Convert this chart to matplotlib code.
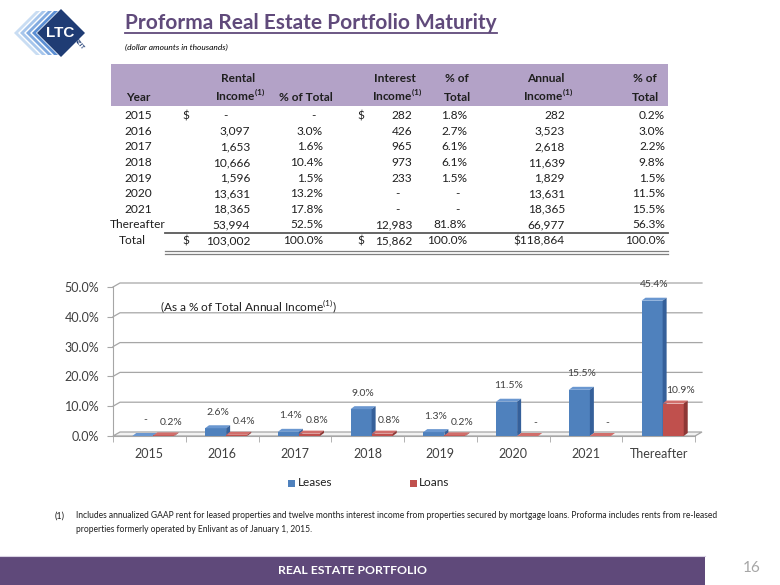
import matplotlib
matplotlib.use('Agg')
import matplotlib.pyplot as plt
from matplotlib.patches import Polygon, Rectangle
from matplotlib.lines import Line2D
import numpy as np

# ---------------- data ----------------
years = ['2015', '2016', '2017', '2018', '2019', '2020', '2021', 'Thereafter']
rental_income = [None, 3097, 1653, 10666, 1596, 13631, 18365, 53994]
rental_pct = [None, 3.0, 1.6, 10.4, 1.5, 13.2, 17.8, 52.5]
interest_income = [282, 426, 965, 973, 233, None, None, 12983]
interest_pct = [1.8, 2.7, 6.1, 6.1, 1.5, None, None, 81.8]
annual_income = [282, 3523, 2618, 11639, 1829, 13631, 18365, 66977]
annual_pct = [0.2, 3.0, 2.2, 9.8, 1.5, 11.5, 15.5, 56.3]
total_rental = 103002
total_interest = 15862
total_annual = 118864
total_pct = 100.0

categories = years
leases_pct = [0.0, 2.6, 1.4, 9.0, 1.3, 11.5, 15.5, 45.4]
loans_pct = [0.2, 0.4, 0.8, 0.8, 0.2, 0.0, 0.0, 10.9]
y_ticks = [0, 10, 20, 30, 40, 50]
series_names = ['Leases', 'Loans']

title = 'Proforma Real Estate Portfolio Maturity'
subtitle = '(dollar amounts in thousands)'
footnote1 = ('Includes annualized GAAP rent for leased properties and twelve months interest income '
             'from properties secured by mortgage loans. Proforma includes rents from re-leased')
footnote2 = 'properties formerly operated by Enlivant as of January 1, 2015.'
footer = 'REAL ESTATE PORTFOLIO'
page = '16'

FAM = ['Lato', 'DejaVu Sans']
plt.rcParams['font.family'] = FAM

W, H = 780, 585
fig = plt.figure(figsize=(7.8, 5.85), dpi=100)
fig.patch.set_facecolor('white')


def fx(x):
    return x / W


def fy(y):
    return 1 - y / H


def txt(x, y, s, **kw):
    kw.setdefault('va', 'center')
    return fig.text(fx(x), fy(y), s, **kw)


def fpoly(pts, **kw):
    p = Polygon([(fx(a), fy(b)) for a, b in pts], closed=True,
                transform=fig.transFigure, **kw)
    fig.patches.append(p)
    return p


def frect(x0, y0, x1, y1, **kw):
    r = Rectangle((fx(x0), fy(y1)), (x1 - x0) / W, (y1 - y0) / H,
                  transform=fig.transFigure, **kw)
    fig.patches.append(r)
    return r


def fline(x0, x1, y, **kw):
    fig.add_artist(Line2D([fx(x0), fx(x1)], [fy(y), fy(y)], transform=fig.transFigure, **kw))


renderer = fig.canvas.get_renderer()


def fit_width(t, width_px):
    w = t.get_window_extent(renderer).width
    t.set_fontsize(t.get_fontsize() * width_px / w)


PURPLE = '#604A7B'
TXT = '#1F1F1F'

# ---------------- logo ----------------
NAVY = '#1F3C74'
chev_cols = ['#C9DDF3', '#A7C6EC', '#82ABE0', '#5B8ED3']
cy, ytop, ybot = 33, 11, 55
for k, c in enumerate(chev_cols):
    a = 14 + 6 * k
    wd = 4
    fpoly([(a + (cy - ytop), ytop), (a, cy), (a + (ybot - cy), ybot),
           (a + wd + (ybot - cy), ybot), (a + wd, cy), (a + wd + (cy - ytop), ytop)],
          facecolor=c, edgecolor='none')
fpoly([(61, 9), (85, 33), (61, 57), (37, 33)], facecolor=NAVY, edgecolor='none')
txt(60, 33, 'LTC', ha='center', color='white', fontsize=11, fontweight='bold',
    family=['Liberation Sans', 'DejaVu Sans'])
txt(79, 44, 'REIT', ha='center', color=NAVY, fontsize=4.5, fontweight='bold', rotation=-50)

# ---------------- title ----------------
t = txt(125, 29, title, ha='left', va='baseline', color=PURPLE, fontsize=14, fontweight='bold')
fit_width(t, 375)
bb = t.get_window_extent(renderer)
fline(125, 125 + bb.width, 33, color=PURPLE, lw=1.3)
s = txt(125, 47, subtitle, ha='left', color='black', fontsize=6.5, style='italic')
fit_width(s, 103)

# ---------------- table ----------------
frect(111, 64, 668, 106, facecolor='#B3A2C7', edgecolor='none')
TFS = 8.6
BL = 3.2  # baseline offset from row centre (px)
hdr = dict(fontsize=TFS, fontweight='bold', color=TXT, ha='center', va='baseline')
sup = r'$^{\mathregular{(1)}}$'
H1, H2 = 79 + BL, 98 + BL
txt(138, H2, 'Year', **hdr)
txt(238, H1, 'Rental', **hdr)
txt(240, H2, 'Income' + sup, **hdr)
txt(306, H2, '% of Total', **hdr)
txt(395, H1, 'Interest', **hdr)
txt(397, H2, 'Income' + sup, **hdr)
txt(457, H1, '% of', **hdr)
txt(457, H2, 'Total', **hdr)
txt(546, H1, 'Annual', **hdr)
txt(548, H2, 'Income' + sup, **hdr)
txt(645, H1, '% of', **hdr)
txt(645, H2, 'Total', **hdr)

cell = dict(fontsize=TFS, color=TXT, va='baseline')
R_RENT, R_RPCT, R_INT, R_IPCT, R_ANN, R_APCT = 250, 323, 412, 467, 565, 665
D_RENT, D_INT = 182, 357
row_y0, row_dy = 116, 15.6
for i, yr in enumerate(years):
    y = row_y0 + i * row_dy + BL
    txt(138, y, yr, ha='center', **cell)
    if rental_income[i] is None:
        txt(225, y, '-', ha='center', **cell)
    else:
        txt(R_RENT, y, f'{rental_income[i]:,}', ha='right', **cell)
    if rental_pct[i] is None:
        txt(313, y, '-', ha='center', **cell)
    else:
        txt(R_RPCT, y, f'{rental_pct[i]:.1f}%', ha='right', **cell)
    if interest_income[i] is None:
        txt(397, y, '-', ha='center', **cell)
    else:
        txt(R_INT, y, f'{interest_income[i]:,}', ha='right', **cell)
    if interest_pct[i] is None:
        txt(457, y, '-', ha='center', **cell)
    else:
        txt(R_IPCT, y, f'{interest_pct[i]:.1f}%', ha='right', **cell)
    txt(R_ANN, y, f'{annual_income[i]:,}', ha='right', **cell)
    txt(R_APCT, y, f'{annual_pct[i]:.1f}%', ha='right', **cell)
    if i == 0:
        txt(D_RENT, y, '$', ha='left', **cell)
        txt(D_INT, y, '$', ha='left', **cell)

ty = 241 + BL
txt(132, ty, 'Total', ha='center', **cell)
txt(D_RENT, ty, '$', ha='left', **cell)
txt(R_RENT, ty, f'{total_rental:,}', ha='right', **cell)
txt(R_RPCT, ty, f'{total_pct:.1f}%', ha='right', **cell)
txt(D_INT, ty, '$', ha='left', **cell)
txt(R_INT, ty, f'{total_interest:,}', ha='right', **cell)
txt(R_IPCT, ty, f'{total_pct:.1f}%', ha='right', **cell)
txt(R_ANN, ty, f'${total_annual:,}', ha='right', **cell)
txt(R_APCT, ty, f'{total_pct:.1f}%', ha='right', **cell)
fline(165, 668, 233, color='#595959', lw=1.3)
fline(165, 668, 251, color='#7F7F7F', lw=0.9)
fline(165, 668, 253.8, color='#7F7F7F', lw=0.9)

# ---------------- chart ----------------
BLUE, RED = '#4F81BD', '#C0504D'
BLUE_TOP, BLUE_SIDE = '#6A97D0', '#35609A'
RED_TOP, RED_SIDE = '#D16E6B', '#8E3735'
GRID = '#A6A6A6'
AX_L, AX_R, AX_B, AX_T = 113, 695, 436, 287
ax = fig.add_axes([fx(AX_L), fy(AX_B), (AX_R - AX_L) / W, (AX_B - AX_T) / H])
ax.set_facecolor('none')
n = len(categories)
x = np.arange(n)
ax.set_xlim(-0.5, n - 0.5)
ax.set_ylim(y_ticks[0], y_ticks[-1])
ppx = (AX_R - AX_L) / n
ppy = (AX_B - AX_T) / (y_ticks[-1] - y_ticks[0])
bdx, bdy = 4 / ppx, 3 / ppy
gdx, gdy = 7 / ppx, 4 / ppy

for v in y_ticks[1:]:
    ax.add_line(Line2D([-0.5, -0.5 + gdx, n - 0.5 + gdx], [v, v + gdy, v + gdy],
                       color=GRID, lw=0.9, clip_on=False, zorder=1))
ax.add_patch(Polygon([(-0.5, 0), (n - 0.5, 0), (n - 0.5 + gdx, gdy), (-0.5 + gdx, gdy)],
                     closed=True, facecolor='#F2F2F2', edgecolor=GRID, lw=0.9,
                     clip_on=False, zorder=1.5))

bw = 0.29
off_l, off_r = -0.09, 0.20


def faces(xc, h, ctop, cside, z):
    x0, x1 = xc - bw / 2, xc + bw / 2
    ax.add_patch(Polygon([(x0, h), (x1, h), (x1 + bdx, h + bdy), (x0 + bdx, h + bdy)],
                         closed=True, facecolor=ctop, edgecolor='none', zorder=z, clip_on=False))
    ax.add_patch(Polygon([(x1, 0), (x1, h), (x1 + bdx, h + bdy), (x1 + bdx, bdy)],
                         closed=True, facecolor=cside, edgecolor='none', zorder=z, clip_on=False))


for i in range(n):
    base = 3 + i * 0.01
    ax.bar(x[i] + off_l, leases_pct[i], bw, color=BLUE, edgecolor='none', zorder=base)
    faces(x[i] + off_l, leases_pct[i], BLUE_TOP, BLUE_SIDE, base + 0.002)
    ax.bar(x[i] + off_r, loans_pct[i], bw, color=RED, edgecolor='none', zorder=base + 0.004)
    faces(x[i] + off_r, loans_pct[i], RED_TOP, RED_SIDE, base + 0.006)


def lab(v):
    return '-' if v == 0 else f'{v:.1f}%'


LFS = 7.5
for i in range(n):
    ax.annotate(lab(leases_pct[i]), (x[i] - 0.06, leases_pct[i]), xytext=(0, 16),
                textcoords='offset pixels', ha='center', va='center', fontsize=LFS,
                color='#404040', zorder=10, annotation_clip=False)
    ax.annotate(lab(loans_pct[i]), (x[i] + 0.3, loans_pct[i]), xytext=(0, 13),
                textcoords='offset pixels', ha='center', va='center', fontsize=LFS,
                color='#404040', zorder=10, annotation_clip=False)

for sp in ['top', 'right']:
    ax.spines[sp].set_visible(False)
ax.spines['left'].set_color(GRID)
ax.spines['bottom'].set_color(GRID)
ax.set_yticks(y_ticks)
ax.set_yticklabels([f'{v:.1f}%' for v in y_ticks])
ax.tick_params(axis='y', direction='out', length=4, color=GRID, labelsize=9,
               labelcolor='#404040', pad=6)
ax.set_xticks(x)
ax.set_xticklabels(categories)
ax.set_xticks(np.arange(n + 1) - 0.5, minor=True)
ax.tick_params(axis='x', which='major', length=0, labelsize=9, labelcolor='#404040', pad=9)
ax.tick_params(axis='x', which='minor', direction='out', length=4, color=GRID)

ann = txt(160, 307, r'(As a % of Total Annual Income$^{\mathregular{(1)}}$)', ha='left',
          fontsize=8.6, color=TXT)

# legend
for (xs, xt, name, col) in [(288, 298, series_names[0], BLUE), (410, 419, series_names[1], RED)]:
    frect(xs, 480, xs + 6.5, 486.5, facecolor=col, edgecolor='none')
    txt(xt, 483, name, ha='left', fontsize=8.5, color=TXT)

# ---------------- footnote ----------------
txt(55, 516, '(1)', ha='left', fontsize=6.5, color=TXT)
f1 = txt(76, 516, footnote1, ha='left', fontsize=6.5, color=TXT)
fit_width(f1, 640)
txt(76, 530, footnote2, ha='left', fontsize=f1.get_fontsize(), color=TXT)

# ---------------- footer ----------------
frect(0, 556, 705, 585, facecolor='#5F497A', edgecolor='none')
fline(0, 705, 555.5, color='#D9D2E3', lw=0.8)
ft = txt(353, 571, footer, ha='center', color='white', fontsize=9, fontweight='bold')
fit_width(ft, 148)
txt(752, 568, page, ha='center', color='#A6A6A6', fontsize=11)

fig.savefig('out.png', dpi=100, facecolor='white')
